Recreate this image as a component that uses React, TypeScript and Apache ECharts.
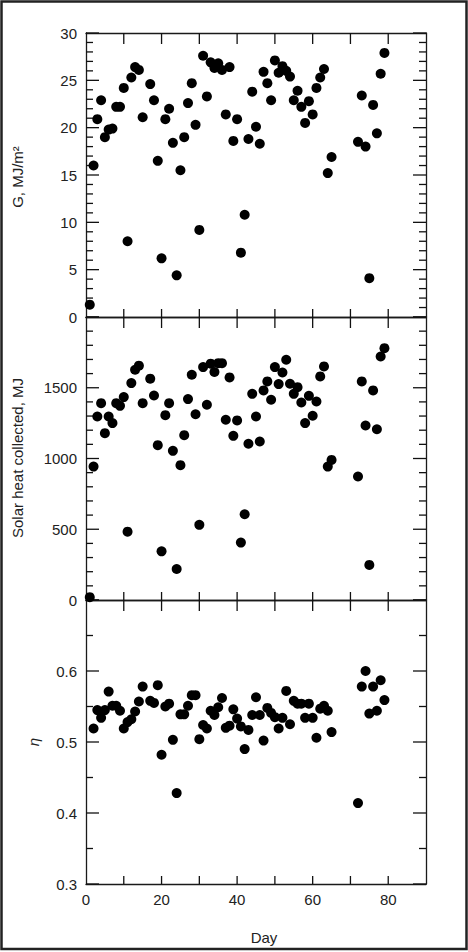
import React, { useEffect, useRef } from "react";
import * as echarts from "echarts";

// Days shared by G and solar heat collected
const days: number[] = [
  1, 2, 3, 4, 5, 6, 7, 8, 9, 10, 11, 12, 13, 14, 15, 17, 18, 19, 20, 21, 22, 23, 24, 25, 26, 27, 28, 29, 30,
  31, 32, 33, 34, 35, 36, 37, 38, 39, 40, 41, 42, 43, 44, 45, 46, 47, 48, 49, 50, 51, 52, 53, 54, 55, 56, 57,
  58, 59, 60, 61, 62, 63, 64, 65, 72, 73, 74, 75, 76, 77, 78, 79,
];

// Daily solar irradiation G, MJ/m²
const gValues: number[] = [
  1.3, 16.0, 20.9, 22.9, 19.0, 19.8, 19.9, 22.2, 22.2, 24.2, 8.0, 25.3, 26.4, 26.1, 21.1, 24.6, 22.9, 16.5,
  6.2, 20.9, 22.0, 18.4, 4.4, 15.5, 19.0, 22.6, 24.7, 20.3, 9.2, 27.6, 23.3, 26.9, 26.3, 26.8, 26.1, 21.4,
  26.4, 18.6, 20.9, 6.8, 10.8, 18.8, 23.8, 20.1, 18.3, 25.9, 24.7, 22.9, 27.1, 25.8, 26.5, 26.0, 25.4, 22.9,
  23.9, 22.2, 20.5, 22.8, 21.4, 24.2, 25.3, 26.2, 15.2, 16.9, 18.5, 23.4, 18.0, 4.1, 22.4, 19.4, 25.7, 27.9,
];

// Solar heat collected, MJ
const heatValues: number[] = [
  20, 943, 1297, 1391, 1179, 1297, 1250, 1391, 1372, 1434, 483, 1533, 1627, 1656, 1391, 1564, 1445, 1094,
  344, 1306, 1391, 1054, 219, 953, 1165, 1420, 1592, 1313, 531, 1646, 1380, 1670, 1611, 1674, 1674, 1274,
  1573, 1160, 1269, 406, 606, 1104, 1457, 1297, 1120, 1481, 1545, 1415, 1646, 1526, 1608, 1698, 1528, 1457,
  1504, 1396, 1250, 1443, 1302, 1403, 1580, 1651, 943, 990, 873, 1545, 1233, 248, 1481, 1207, 1721, 1780,
];

// Efficiency η (no value on day 1)
const etaDays: number[] = days.slice(1);
const etaValues: number[] = [
  0.519, 0.545, 0.534, 0.545, 0.571, 0.551, 0.551, 0.544, 0.519, 0.528, 0.532, 0.543, 0.557, 0.578, 0.558,
  0.555, 0.58, 0.482, 0.55, 0.554, 0.503, 0.428, 0.539, 0.539, 0.551, 0.566, 0.566, 0.504, 0.524, 0.519,
  0.544, 0.538, 0.549, 0.562, 0.52, 0.523, 0.546, 0.533, 0.522, 0.49, 0.517, 0.538, 0.563, 0.538, 0.502,
  0.548, 0.541, 0.535, 0.519, 0.534, 0.572, 0.525, 0.558, 0.554, 0.554, 0.534, 0.554, 0.534, 0.506, 0.547,
  0.551, 0.544, 0.514, 0.414, 0.578, 0.6, 0.54, 0.578, 0.544, 0.587, 0.559,
];

// x axis: Day 0–90, ticks every 10, labels every 20
const xMin = 0;
const xMax = 90;
const xStep = 10;
const xLabelEvery = 20;

const panels = [
  { min: 0, max: 30, interval: 5, minorSplit: 5, decimals: 0, hideMax: false },
  { min: 0, max: 2000, interval: 500, minorSplit: 5, decimals: 0, hideMax: true },
  { min: 0.3, max: 0.7, interval: 0.1, minorSplit: 2, decimals: 1, hideMax: true },
];

const FONT = "'Liberation Sans', Arial, sans-serif";
const TEXT = "#222";
const AXIS_COLOR = "#1a1a1a";

// Build the tick rows for one panel: [kind (0 = y tick, 1 = x tick), value, isMajor, yMin, yMax]
function tickRows(p: { min: number; max: number; interval: number; minorSplit: number }): number[][] {
  const rows: number[][] = [];
  const minorStep = p.interval / p.minorSplit;
  const n = Math.round((p.max - p.min) / minorStep);
  for (let k = 0; k <= n; k++) {
    const v = p.min + k * minorStep;
    rows.push([0, v, k % p.minorSplit === 0 ? 1 : 0, p.min, p.max]);
  }
  for (let x = xMin + xStep; x < xMax; x += xStep) {
    rows.push([1, x, 1, p.min, p.max]);
  }
  return rows;
}

export default function App() {
  const ref = useRef<HTMLDivElement>(null);

  useEffect(() => {
    if (!ref.current) return;
    const chart = echarts.init(ref.current, undefined, { renderer: "svg" });

    const left = 86;
    const right = 468 - 426;
    const tops = [33, 317, 600];
    const heights = [284, 283, 284];
    const grids = tops.map((t, i) => ({ left, right, top: t, height: heights[i] }));

    const axisLs = { color: AXIS_COLOR, width: 1.3 };

    const xAxes: any[] = [];
    const yAxes: any[] = [];
    panels.forEach((p, i) => {
      const isLast = i === panels.length - 1;
      xAxes.push({
        gridIndex: i,
        type: "value",
        position: "bottom",
        min: xMin,
        max: xMax,
        interval: xStep,
        axisLine: { show: true, onZero: false, lineStyle: { ...axisLs } },
        axisTick: { show: false },
        axisLabel: {
          show: isLast,
          margin: 8,
          fontSize: 15,
          fontFamily: FONT,
          color: TEXT,
          formatter: (v: number) => (v % xLabelEvery === 0 && v < xMax ? String(v) : ""),
        },
        splitLine: { show: false },
      });
      xAxes.push({
        gridIndex: i,
        type: "value",
        position: "top",
        min: xMin,
        max: xMax,
        interval: xStep,
        axisLine: { show: true, onZero: false, lineStyle: { ...axisLs } },
        axisTick: { show: false },
        axisLabel: { show: false },
        splitLine: { show: false },
      });
      yAxes.push({
        gridIndex: i,
        type: "value",
        min: p.min,
        max: p.max,
        interval: p.interval,
        position: "left",
        axisLine: { show: true, onZero: false, lineStyle: { ...axisLs } },
        axisTick: { show: false },
        minorTick: { show: false },
        splitLine: { show: false },
        minorSplitLine: { show: false },
        axisLabel: {
          show: true,
          margin: 9,
          fontSize: 15,
          fontFamily: FONT,
          color: TEXT,
          formatter: (v: number) => (p.hideMax && Math.abs(v - p.max) < 1e-9 ? "" : v.toFixed(p.decimals)),
        },
      });
      yAxes.push({
        gridIndex: i,
        type: "value",
        min: p.min,
        max: p.max,
        interval: p.interval,
        position: "right",
        axisLine: { show: true, onZero: false, lineStyle: { ...axisLs } },
        axisTick: { show: false },
        minorTick: { show: false },
        splitLine: { show: false },
        minorSplitLine: { show: false },
        axisLabel: { show: false },
      });
    });

    const tickStroke = { stroke: "#111", lineWidth: 1.3 };
    const renderTicks = (_params: any, api: any) => {
      const kind = api.value(0);
      const v = api.value(1);
      const isMajor = api.value(2) === 1;
      const yMin = api.value(3);
      const yMax = api.value(4);
      if (kind === 0) {
        const pl = api.coord([xMin, v]);
        const pr = api.coord([xMax, v]);
        const len = isMajor ? 13 : 7;
        return {
          type: "group",
          children: [
            { type: "line", shape: { x1: pl[0], y1: pl[1], x2: pl[0] + len, y2: pl[1] }, style: { ...tickStroke } },
            { type: "line", shape: { x1: pr[0], y1: pr[1], x2: pr[0] - len, y2: pr[1] }, style: { ...tickStroke } },
          ],
        };
      }
      const pb = api.coord([v, yMin]);
      const pt = api.coord([v, yMax]);
      return {
        type: "group",
        children: [
          { type: "line", shape: { x1: pb[0], y1: pb[1], x2: pb[0], y2: pb[1] - 8 }, style: { ...tickStroke } },
          { type: "line", shape: { x1: pt[0], y1: pt[1], x2: pt[0], y2: pt[1] + 11 }, style: { ...tickStroke } },
        ],
      };
    };

    const marker = { color: "#000", opacity: 1 };
    const series: any[] = [
      { type: "scatter", xAxisIndex: 0, yAxisIndex: 0, symbol: "circle", symbolSize: 10, itemStyle: marker, data: days.map((d, k) => [d, gValues[k]]) },
      { type: "scatter", xAxisIndex: 2, yAxisIndex: 2, symbol: "circle", symbolSize: 10, itemStyle: marker, data: days.map((d, k) => [d, heatValues[k]]) },
      { type: "scatter", xAxisIndex: 4, yAxisIndex: 4, symbol: "circle", symbolSize: 10, itemStyle: marker, data: etaDays.map((d, k) => [d, etaValues[k]]) },
    ];
    panels.forEach((p, i) => {
      series.push({
        type: "custom",
        xAxisIndex: 2 * i,
        yAxisIndex: 2 * i,
        silent: true,
        clip: false,
        encode: { x: 1, y: 1 },
        renderItem: renderTicks,
        data: tickRows(p),
        z: 1,
      });
    });

    const nameStyle = { fill: TEXT, fontSize: 15, fontFamily: FONT, align: "center", verticalAlign: "middle" };

    chart.setOption({
      animation: false,
      backgroundColor: "#fff",
      grid: grids,
      xAxis: xAxes,
      yAxis: yAxes,
      series,
      graphic: [
        { type: "rect", shape: { x: 1.5, y: 1.5, width: 465, height: 947.5 }, style: { fill: "none", stroke: "#222", lineWidth: 2.5 }, silent: true },
        { type: "text", x: 17, y: 177, rotation: Math.PI / 2, style: { ...nameStyle, text: "G, MJ/m²" } },
        { type: "text", x: 17, y: 458, rotation: Math.PI / 2, style: { ...nameStyle, text: "Solar heat collected, MJ" } },
        { type: "text", x: 33, y: 742, rotation: Math.PI / 2, style: { ...nameStyle, text: "η", fontStyle: "italic" } },
        { type: "text", x: 264, y: 937, style: { ...nameStyle, text: "Day" } },
      ],
    });

    return () => chart.dispose();
  }, []);

  return <div ref={ref} style={{ position: "absolute", left: 0, top: 0, width: 468, height: 952, background: "#fff" }} />;
}
